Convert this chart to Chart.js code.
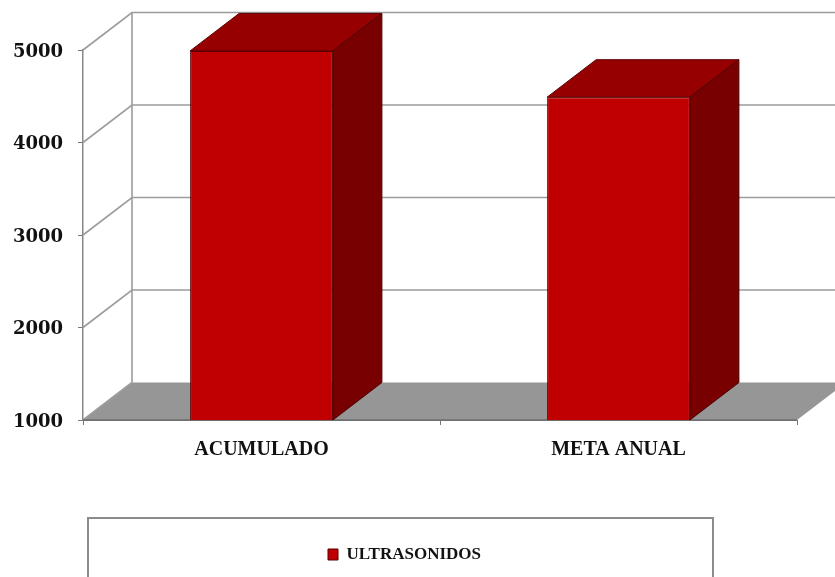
<!DOCTYPE html>
<html>
<head>
<meta charset="utf-8">
<style>
  html, body { margin: 0; padding: 0; background: #fff; overflow: hidden; }
  #myChart { display: block; filter: blur(0.4px); }
</style>
<script src="https://cdn.jsdelivr.net/npm/chart.js@4"></script>
</head>
<body>
<canvas id="myChart" width="835" height="577"></canvas>
<script>
const categories = ["ACUMULADO", "META ANUAL"];
const seriesName = "ULTRASONIDOS";
const seriesValues = [4990, 4490];
const yMin = 1000;
const yMax = 5000;
const yStep = 1000;

// 3d look: how far the back wall sits from the front plane
const depthX = 49;
const depthY = -37.5;

function poly(ctx, pts, fill, stroke) {
  ctx.beginPath();
  pts.forEach((p, i) => (i ? ctx.lineTo(p[0], p[1]) : ctx.moveTo(p[0], p[1])));
  ctx.closePath();
  if (fill) {
    ctx.fillStyle = fill;
    ctx.fill();
  }
  if (stroke) {
    ctx.strokeStyle = stroke;
    ctx.lineWidth = 1;
    ctx.stroke();
  }
}

const box3d = {
  id: "box3d",
  afterLayout(chart) {
    // legend sits in the framed area under the chart
    const legend = chart.legend;
    const h = legend.bottom - legend.top;
    const w = legend.right - legend.left;
    legend.left = 324;
    legend.right = legend.left + w;
    legend.top = 554.5 - h / 2;
    legend.bottom = legend.top + h;
  },
  beforeDatasetsDraw(chart) {
    const ctx = chart.ctx;
    const a = chart.chartArea;
    const y = chart.scales.y;
    ctx.save();
    // floor
    poly(ctx, [
      [a.left, a.bottom],
      [a.right, a.bottom],
      [a.right + depthX, a.bottom + depthY],
      [a.left + depthX, a.bottom + depthY],
    ], "#969696");
    // walls
    ctx.strokeStyle = "#9c9c9c";
    ctx.lineWidth = 1.6;
    y.ticks.forEach((t) => {
      const py = y.getPixelForValue(t.value);
      ctx.beginPath();
      ctx.moveTo(a.left, py);
      ctx.lineTo(a.left + depthX, py + depthY);
      if (t.value > yMin) ctx.lineTo(a.right + depthX, py + depthY);
      ctx.stroke();
    });
    ctx.beginPath();
    ctx.moveTo(a.left + depthX, a.top + depthY);
    ctx.lineTo(a.left + depthX, a.bottom + depthY);
    ctx.stroke();
    // front edge of the floor
    ctx.strokeStyle = "#6e6e6e";
    ctx.beginPath();
    ctx.moveTo(a.left, a.bottom);
    ctx.lineTo(a.right, a.bottom);
    ctx.stroke();
    ctx.restore();
  },
  afterDatasetsDraw(chart) {
    const ctx = chart.ctx;
    const floor = chart.scales.y.getPixelForValue(yMin);
    ctx.save();
    chart.getDatasetMeta(0).data.forEach((bar) => {
      const l = bar.x - bar.width / 2;
      const r = bar.x + bar.width / 2;
      poly(ctx, [
        [l, bar.y],
        [r, bar.y],
        [r + depthX, bar.y + depthY],
        [l + depthX, bar.y + depthY],
      ], "#960000", "#5a0000");
      poly(ctx, [
        [r, bar.y],
        [r + depthX, bar.y + depthY],
        [r + depthX, floor + depthY],
        [r, floor],
      ], "#780000", "#4a0000");
    });
    ctx.restore();
  },
  afterDraw(chart) {
    // legend frame, runs off the bottom of the picture
    const ctx = chart.ctx;
    ctx.save();
    ctx.strokeStyle = "#8c8c8c";
    ctx.lineWidth = 2;
    ctx.strokeRect(88, 518, 625, 80);
    ctx.restore();
  },
};

const config = {
  type: "bar",
  data: {
    labels: categories,
    datasets: [
      {
        label: seriesName,
        data: seriesValues,
        backgroundColor: "#c00000",
        borderColor: "#5a0000",
        borderWidth: 1,
        barPercentage: 0.4,
        categoryPercentage: 1,
      },
    ],
  },
  options: {
    responsive: false,
    animation: false,
    layout: {
      padding: { top: 50, right: 38, left: 0, bottom: 0 },
    },
    scales: {
      x: {
        afterFit(scale) {
          scale.height = 157;
        },
        grid: {
          offset: true,
          drawOnChartArea: false,
          tickLength: 5,
          color: "#777",
        },
        border: { color: "#777" },
        ticks: {
          maxRotation: 0,
          padding: 13,
          color: "#111",
          font: { family: "Liberation Serif", weight: "bold", size: 20 },
        },
      },
      y: {
        min: yMin,
        max: yMax,
        afterFit(scale) {
          scale.width = 83;
        },
        grid: {
          drawOnChartArea: false,
          tickLength: 5,
          color: "#777",
        },
        border: { color: "#888", width: 1.5 },
        ticks: {
          stepSize: yStep,
          padding: 15,
          labelOffset: 2,
          color: "#111",
          font: { family: "DejaVu Serif", weight: "bold", size: 18 },
          callback: (value) => String(value),
        },
      },
    },
    plugins: {
      title: { display: false },
      tooltip: { enabled: false },
      legend: {
        position: "chartArea",
        labels: {
          boxWidth: 10,
          boxHeight: 11,
          padding: 4,
          color: "#111",
          font: { family: "Liberation Serif", weight: "bold", size: 17 },
        },
      },
    },
  },
  plugins: [box3d],
};

const ctx = document.getElementById("myChart").getContext("2d");
new Chart(ctx, config);
</script>
</body>
</html>
